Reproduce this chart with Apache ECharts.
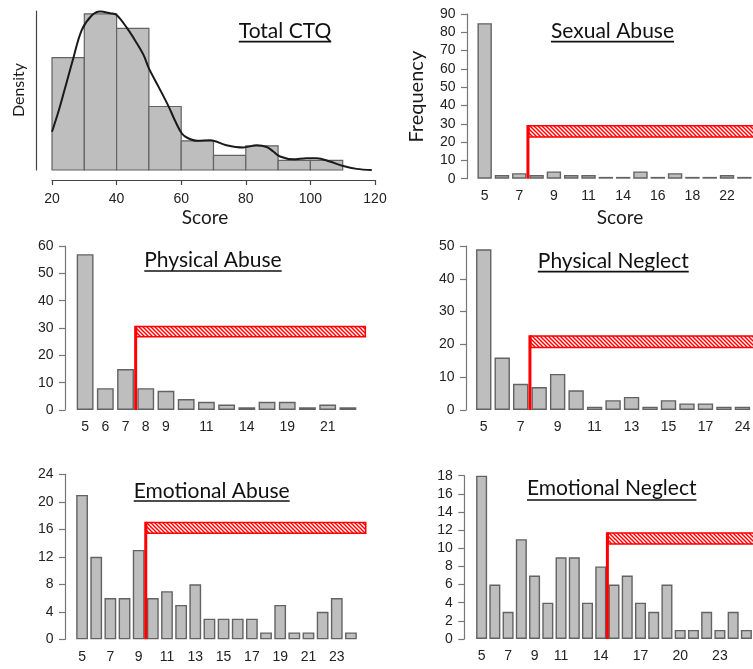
<!DOCTYPE html>
<html>
<head>
<meta charset="utf-8">
<script src="https://cdn.jsdelivr.net/npm/echarts@6/dist/echarts.min.js"></script>
<style>
  html, body { margin: 0; padding: 0; background: #ffffff; }
  #chart { width: 753px; height: 669px; }
</style>
</head>
<body>
<div id="chart"></div>
<script>
// ---------- Total CTQ: histogram (bins of 10) with density curve ----------
const ctqBinStarts = [20, 30, 40, 50, 60, 70, 80, 90, 100];
const ctqBinWidth = 10;
const ctqDensity = [0.0200, 0.0278, 0.0252, 0.0113, 0.0052, 0.0026, 0.0043, 0.0017, 0.0017];
const ctqCurve = [
  [20, 0.0068], [22, 0.0104], [24, 0.0145], [26.6, 0.0199], [29.2, 0.0249],
  [32.3, 0.0275], [34.9, 0.0282], [38, 0.0279], [40, 0.0276], [43.3, 0.0252],
  [46, 0.0228], [48.4, 0.0204], [50, 0.0181], [53, 0.0148], [56.2, 0.0112],
  [58, 0.0089], [60.2, 0.0065], [62, 0.0057], [65, 0.0052], [69, 0.0053],
  [74, 0.0044], [79.2, 0.0040], [83.4, 0.0044], [86.5, 0.0041], [88.5, 0.0033],
  [90.6, 0.0024], [94.7, 0.0019], [98.9, 0.0021], [102, 0.0021], [106, 0.0015],
  [110.2, 0.0007], [114.3, 0.0002], [119, 0.0000]
];
const ctqTicks = [20, 40, 60, 80, 100, 120];

// ---------- Subscale frequency tables ----------
const saCategories = ['5', '6', '7', '8', '9', '10', '11', '13', '14', '15', '16', '17', '18', '20', '22', '25'];
const saCounts = [85, 2, 3, 2, 4, 2, 2, 1, 1, 4, 1, 3, 1, 1, 2, 1];
const saTickLabels = ['5', '7', '9', '11', '14', '16', '18', '22'];
const saCutoff = '8';
const saBand = [22.4, 29.3];

const paCategories = ['5', '6', '7', '8', '9', '10', '11', '12', '14', '16', '19', '20', '21', '23'];
const paCounts = [57, 8, 15, 8, 7, 4, 3, 2, 1, 3, 3, 1, 2, 1];
const paTickLabels = ['5', '6', '7', '8', '9', '11', '14', '19', '21'];
const paCutoff = '8';
const paBand = [26.5, 30.8];

const pnCategories = ['5', '6', '7', '8', '9', '10', '11', '12', '13', '14', '15', '16', '17', '19', '24'];
const pnCounts = [49, 16, 8, 7, 11, 6, 1, 3, 4, 1, 3, 2, 2, 1, 1];
const pnTickLabels = ['5', '7', '9', '11', '13', '15', '17', '24'];
const pnCutoff = '8';
const pnBand = [18.8, 22.8];

const eaCategories = ['5', '6', '7', '8', '9', '10', '11', '12', '13', '14', '15', '16', '17', '18', '19', '20', '21', '22', '23', '24'];
const eaCounts = [21, 12, 6, 6, 13, 6, 7, 5, 8, 3, 3, 3, 3, 1, 5, 1, 1, 4, 6, 1];
const eaTickLabels = ['5', '7', '9', '11', '13', '15', '17', '19', '21', '23'];
const eaCutoff = '10';
const eaBand = [15.3, 17.1];

const enCategories = ['5', '6', '7', '8', '9', '10', '11', '12', '13', '14', '15', '16', '17', '18', '19', '20', '21', '22', '23', '24', '25'];
const enCounts = [18, 6, 3, 11, 7, 4, 9, 9, 4, 8, 6, 7, 4, 3, 6, 1, 1, 3, 1, 3, 1];
const enTickLabels = ['5', '7', '9', '11', '14', '17', '20', '23'];
const enCutoff = '15';
const enBand = [10.4, 11.76];

// ---------- Layout ----------
const numFont = 'Liberation Sans, Arial, sans-serif';
const numSize = 14;
const numColor = '#222222';
const textFont = 'Lato, "Open Sans", sans-serif';
const barFill = '#bebebe';
const barEdge = '#636363';
const red = '#ff0000';

const barPanels = [
  { title: 'Sexual Abuse', cats: saCategories, counts: saCounts, ticks: saTickLabels, cutoff: saCutoff, band: saBand,
    yMax: 90, yStep: 10, grid: { left: 476, top: 14, width: 286.4, height: 164.7 }, yOffset: 9, bandOver: 1.0,
    titlePos: [612.5, 31, 41.7] },
  { title: 'Physical Abuse', cats: paCategories, counts: paCounts, ticks: paTickLabels, cutoff: paCutoff, band: paBand,
    yMax: 60, yStep: 10, grid: { left: 75, top: 246, width: 283, height: 164 }, yOffset: 10, bandOver: 0.4,
    titlePos: [213, 260, 271] },
  { title: 'Physical Neglect', cats: pnCategories, counts: pnCounts, ticks: pnTickLabels, cutoff: pnCutoff, band: pnBand,
    yMax: 50, yStep: 10, grid: { left: 474.5, top: 246, width: 283.5, height: 164 }, yOffset: 8.5, bandOver: 1.0,
    titlePos: [613.3, 260.8, 271.7] },
  { title: 'Emotional Abuse', cats: eaCategories, counts: eaCounts, ticks: eaTickLabels, cutoff: eaCutoff, band: eaBand,
    yMax: 24, yStep: 4, grid: { left: 75, top: 474.3, width: 283, height: 165 }, yOffset: 10, bandOver: 0.6,
    titlePos: [211.7, 490.8, 501] },
  { title: 'Emotional Neglect', cats: enCategories, counts: enCounts, ticks: enTickLabels, cutoff: enCutoff, band: enBand,
    yMax: 18, yStep: 2, grid: { left: 475, top: 475.7, width: 280, height: 163.3 }, yOffset: 10.7, bandOver: 1.5,
    titlePos: [611.7, 488.3, 500] }
];

// Diagonal hatch tile for the threshold bands
function makeHatch() {
  const s = 4;
  const c = document.createElement('canvas');
  c.width = s; c.height = s;
  const g = c.getContext('2d');
  g.fillStyle = '#ffffff';
  g.fillRect(0, 0, s, s);
  g.strokeStyle = red;
  g.lineWidth = 1.5;
  g.beginPath();
  g.moveTo(-1, -1); g.lineTo(s + 1, s + 1);
  g.moveTo(-1, s - 1); g.lineTo(1, s + 1);
  g.moveTo(s - 1, -1); g.lineTo(s + 1, 1);
  g.stroke();
  return { image: c, repeat: 'repeat' };
}
const hatch = makeHatch();

const measureCtx = document.createElement('canvas').getContext('2d');
function textWidth(str, font) {
  measureCtx.font = font;
  return measureCtx.measureText(str).width;
}

const grids = [];
const xAxes = [];
const yAxes = [];
const series = [];
const graphics = [];

function addTitle(text, cx, cy, uy) {
  const font = '21px ' + textFont;
  const w = textWidth(text, font);
  graphics.push({ type: 'text', x: cx, y: cy, z: 50,
    style: { text: text, font: font, fill: '#111111', align: 'center', verticalAlign: 'middle' } });
  graphics.push({ type: 'line', z: 50, shape: { x1: cx - w / 2, y1: uy, x2: cx + w / 2, y2: uy },
    style: { stroke: '#111111', lineWidth: 1.7 } });
}

function addName(text, x, y, size, rotated) {
  graphics.push({ type: 'text', x: x, y: y, z: 50, rotation: rotated ? Math.PI / 2 : 0,
    style: { text: text, font: size + 'px ' + textFont, fill: '#1a1a1a', align: 'center', verticalAlign: 'middle' } });
}

// ---------- Panel 0: Total CTQ ----------
grids.push({ left: 52, top: 11, width: 323, height: 159 });
xAxes.push({
  type: 'value', gridIndex: 0, min: 20, max: 120, interval: 20, offset: 10,
  axisLine: { show: true, onZero: false, lineStyle: { color: '#444444', width: 1.2 } },
  axisTick: { show: true, length: 5, lineStyle: { color: '#444444', width: 1.2 } },
  axisLabel: { show: true, fontFamily: numFont, fontSize: numSize, color: numColor, margin: 12.5,
    formatter: v => (ctqTicks.indexOf(v) >= 0 ? String(v) : '') },
  splitLine: { show: false }
});
yAxes.push({
  type: 'value', gridIndex: 0, min: 0, max: 0.0283, offset: 16,
  axisLine: { show: true, onZero: false, lineStyle: { color: '#444444', width: 1.2 } },
  axisTick: { show: false }, axisLabel: { show: false }, splitLine: { show: false }
});
series.push({
  type: 'custom', xAxisIndex: 0, yAxisIndex: 0, silent: true, animation: false, clip: false,
  data: ctqBinStarts.map((s, i) => [s, s + ctqBinWidth, ctqDensity[i]]),
  renderItem: function (params, api) {
    const p0 = api.coord([api.value(0), api.value(2)]);
    const p1 = api.coord([api.value(1), 0]);
    return { type: 'rect', shape: { x: p0[0], y: p0[1], width: p1[0] - p0[0], height: p1[1] - p0[1] },
      style: { fill: barFill, stroke: barEdge, lineWidth: 1.2 } };
  }
});
series.push({
  type: 'line', xAxisIndex: 0, yAxisIndex: 0, silent: true, animation: false,
  data: ctqCurve, smooth: 0.35, showSymbol: false, z: 5,
  lineStyle: { color: '#1a1a1a', width: 2 }
});
addTitle('Total CTQ', 285, 30.8, 41.7);
addName('Density', 19, 90, 16, true);
addName('Score', 205, 218, 19, false);

// ---------- Panels 1-5: subscale bar charts ----------
function renderBracket(params, api) {
  const cut = api.value(0), lo = api.value(1), hi = api.value(2), end = api.value(3);
  const base = api.coord([cut, 0]);
  const top = api.coord([cut, hi]);
  const far = api.coord([end, lo]);
  return {
    type: 'group',
    children: [
      { type: 'rect', shape: { x: top[0] + 0.75, y: top[1] + 0.75, width: far[0] - top[0] - 1.5, height: far[1] - top[1] - 1.5 },
        style: { fill: hatch, stroke: red, lineWidth: 1.5 } },
      { type: 'line', shape: { x1: base[0], y1: base[1], x2: top[0], y2: top[1] },
        style: { stroke: red, lineWidth: 3 } }
    ]
  };
}

barPanels.forEach((p, k) => {
  const gi = k + 1;
  grids.push(p.grid);
  const catIdx = xAxes.length;
  xAxes.push({
    type: 'category', gridIndex: gi, data: p.cats, boundaryGap: true,
    axisLine: { show: false, onZero: false }, axisTick: { show: false }, splitLine: { show: false },
    axisLabel: { show: true, fontFamily: numFont, fontSize: numSize, color: numColor, margin: 10.5,
      interval: (idx, val) => p.ticks.indexOf(val) >= 0 }
  });
  const valIdx = xAxes.length;
  xAxes.push({ type: 'value', gridIndex: gi, show: false, min: -0.5, max: p.cats.length - 0.5,
    axisLine: { onZero: false } });
  const yIdx = yAxes.length;
  yAxes.push({
    type: 'value', gridIndex: gi, min: 0, max: p.yMax, interval: p.yStep, offset: p.yOffset,
    axisLine: { show: true, onZero: false, lineStyle: { color: '#777777', width: 1.2 } },
    axisTick: { show: true, length: 6, lineStyle: { color: '#777777', width: 1.2 } },
    axisLabel: { show: true, fontFamily: numFont, fontSize: numSize, color: numColor, margin: 11.5 },
    splitLine: { show: false }
  });
  series.push({
    type: 'bar', xAxisIndex: catIdx, yAxisIndex: yIdx, data: p.counts, silent: true, animation: false,
    barCategoryGap: '16.7%',
    itemStyle: { color: barFill, borderColor: barEdge, borderWidth: 1.4 }
  });
  const cutPos = p.cats.indexOf(p.cutoff) - 0.5;
  series.push({
    type: 'custom', xAxisIndex: valIdx, yAxisIndex: yIdx, silent: true, animation: false, clip: false, z: 6,
    data: [[cutPos, p.band[0], p.band[1], p.cats.length - 0.5 + p.bandOver]],
    renderItem: renderBracket
  });
  addTitle(p.title, p.titlePos[0], p.titlePos[1], p.titlePos[2]);
});

addName('Frequency', 416.7, 96.7, 20, true);
addName('Score', 620, 218.3, 19, false);

const chart = echarts.init(document.getElementById('chart'), null, { renderer: 'canvas' });
chart.setOption({
  animation: false,
  backgroundColor: '#ffffff',
  grid: grids,
  xAxis: xAxes,
  yAxis: yAxes,
  series: series,
  graphic: graphics
});
</script>
</body>
</html>
